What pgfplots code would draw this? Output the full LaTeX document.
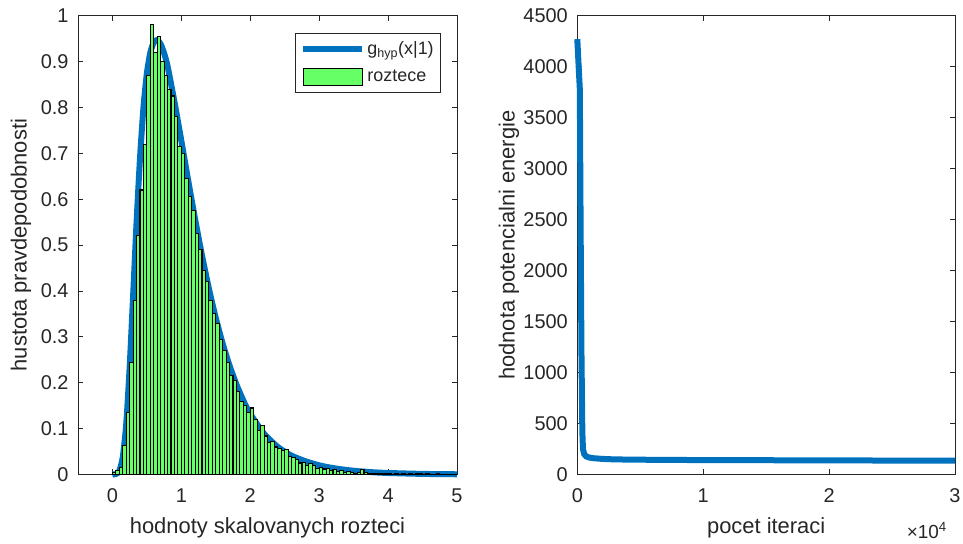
\documentclass[border=0pt]{standalone}
\usepackage{pgfplots}
\pgfplotsset{compat=1.18}
\usepackage{pgfplotstable}
\usepackage{fontspec}
\setmainfont{Liberation Sans}
\definecolor{mblue}{RGB}{0,114,189}
\definecolor{mgreen}{RGB}{102,255,102}
\definecolor{axgray}{RGB}{38,38,38}

\pgfplotstableread{
x y
0.00 0.000
0.05 0.001
0.10 0.008
0.15 0.038
0.20 0.110
0.25 0.235
0.30 0.390
0.35 0.550
0.40 0.690
0.45 0.800
0.50 0.875
0.55 0.920
0.60 0.942
0.65 0.947
0.70 0.938
0.75 0.918
0.80 0.890
0.90 0.812
1.00 0.727
1.10 0.640
1.20 0.556
1.30 0.477
1.40 0.405
1.50 0.341
1.60 0.285
1.70 0.237
1.80 0.196
1.90 0.161
2.00 0.132
2.20 0.089
2.40 0.060
2.60 0.041
2.80 0.029
3.00 0.020
3.20 0.014
3.40 0.0098
3.60 0.0068
3.80 0.0047
4.00 0.0033
4.50 0.0013
5.00 0.0005
}\curvetab

\pgfplotstableread{
x y
0.00 0.004
0.05 0.008
0.10 0.015
0.15 0.064
0.20 0.135
0.25 0.245
0.30 0.380
0.35 0.520
0.40 0.620
0.45 0.720
0.50 0.870
0.55 0.980
0.60 0.920
0.65 0.955
0.70 0.900
0.75 0.870
0.80 0.840
0.85 0.825
0.90 0.780
0.95 0.715
1.00 0.700
1.05 0.645
1.10 0.605
1.15 0.575
1.20 0.525
1.25 0.490
1.30 0.445
1.35 0.420
1.40 0.380
1.45 0.350
1.50 0.330
1.55 0.295
1.60 0.270
1.65 0.245
1.70 0.215
1.75 0.205
1.80 0.180
1.85 0.160
1.90 0.150
1.95 0.135
2.00 0.145
2.05 0.120
2.10 0.095
2.15 0.106
2.20 0.084
2.25 0.070
2.30 0.072
2.35 0.060
2.40 0.057
2.45 0.053
2.50 0.055
2.55 0.040
2.60 0.038
2.65 0.032
2.70 0.025
2.75 0.027
2.80 0.020
2.85 0.024
2.90 0.020
2.95 0.014
3.00 0.015
3.05 0.012
3.10 0.013
3.15 0.009
3.20 0.010
3.25 0.006
3.30 0.008
3.35 0.005
3.40 0.006
3.45 0.004
3.50 0.003
3.55 0.004
3.60 0.011
3.65 0.004
3.70 0.002
3.75 0.003
3.80 0.001
3.85 0.002
3.90 0.001
3.95 0.003
4.00 0.001
4.05 0.000
4.10 0.001
4.15 0.000
4.20 0.001
4.25 0.000
4.30 0.003
4.35 0.000
4.40 0.003
4.45 0.001
4.50 0.000
4.55 0.001
4.60 0.000
4.65 0.000
4.70 0.001
4.75 0.000
4.80 0.000
4.85 0.000
4.90 0.000
4.95 0.000
5.00 0.000
}\histtab

\pgfplotstableread{
x y
0 4270
100 4020
200 3780
260 2500
330 1200
400 420
450 250
550 200
700 178
900 168
1250 160
2000 153
3000 148
5000 145
9000 142
15000 140
20000 138
25000 137
30000 136
}\energytab

\begin{document}
\begin{tikzpicture}
\useasboundingbox (0bp,0bp) rectangle (963bp,544bp);
\pgfplotsset{
  every axis/.append style={
    scale only axis, height=458.8bp, clip=false,
    axis line style={axgray, line width=0.8bp},
    tick style={axgray, line width=0.8bp},
    major tick length=5bp,
    tick align=inside,
    ticklabel style={font=\fontsize{20}{24}\selectfont, text=axgray},
    xticklabel style={yshift=-11bp},
    yticklabel style={xshift=-6bp},
    label style={font=\fontsize{22}{26}\selectfont, text=axgray},
    /pgf/number format/assume math mode=true,
    /pgf/number format/1000 sep={},
  }
}
\begin{axis}[
  at={(78bp,69.5bp)}, anchor=south west, width=379bp,
  xmin=-0.5, xmax=5, ymin=0, ymax=1,
  xtick={0,1,2,3,4,5},
  ytick={0,0.1,0.2,0.3,0.4,0.5,0.6,0.7,0.8,0.9,1},
  yticklabels={0,0.1,0.2,0.3,0.4,0.5,0.6,0.7,0.8,0.9,1},
  xlabel={hodnoty skalovanych rozteci},
  ylabel={hustota pravdepodobnosti},
  xlabel style={at={(axis description cs:0.5,0)}, anchor=base, yshift=-58.5bp},
  ylabel style={at={(axis description cs:-0.1504,0.5)}, anchor=center},
  legend style={at={(1,1)}, anchor=north east, xshift=-16bp, yshift=-17bp,
    draw=axgray, line width=0.6bp, fill=white,
    font=\fontsize{18}{21}\selectfont, text=axgray,
    inner xsep=5bp, inner ysep=6.5bp, row sep=10bp,
    nodes={inner sep=2bp}},
  legend cell align=left,
]
\addplot[color=mblue, line width=6bp, smooth, tension=0.4,
  legend image code/.code={\draw[mblue, line width=6bp] (0bp,0bp) -- (59bp,0bp);}]
  table[x=x,y=y] {\curvetab};
\addlegendentry{g\textsubscript{hyp}(x|1)}
\addplot[ybar interval, fill=mgreen, draw=black, line width=1.1bp,
  legend image code/.code={\draw[fill=mgreen, draw=black, line width=0.9bp] (0bp,-8.5bp) rectangle (59bp,8.5bp);}]
  table[x=x,y=y] {\histtab};
\addlegendentry{roztece}
\end{axis}

\begin{axis}[
  at={(577.3bp,69.5bp)}, anchor=south west, width=377.7bp,
  xmin=0, xmax=30000, ymin=0, ymax=4500,
  xtick={0,10000,20000,30000}, xticklabels={0,1,2,3},
  scaled x ticks=false,
  ytick={0,500,1000,1500,2000,2500,3000,3500,4000,4500},
  xlabel={pocet iteraci},
  ylabel={hodnota potencialni energie},
  xlabel style={at={(axis description cs:0.5,0)}, anchor=base, yshift=-58.5bp},
  ylabel style={at={(axis description cs:-0.1808,0.5)}, anchor=center},
]
\addplot[color=mblue, line width=6bp] table[x=x,y=y] {\energytab};
\node[anchor=base east, font=\fontsize{19}{23}\selectfont, text=axgray, inner sep=0pt]
  at (rel axis cs:1,0) [xshift=-8bp, yshift=-63.5bp] {×10\textsuperscript{4}};
\end{axis}
\end{tikzpicture}
\end{document}
